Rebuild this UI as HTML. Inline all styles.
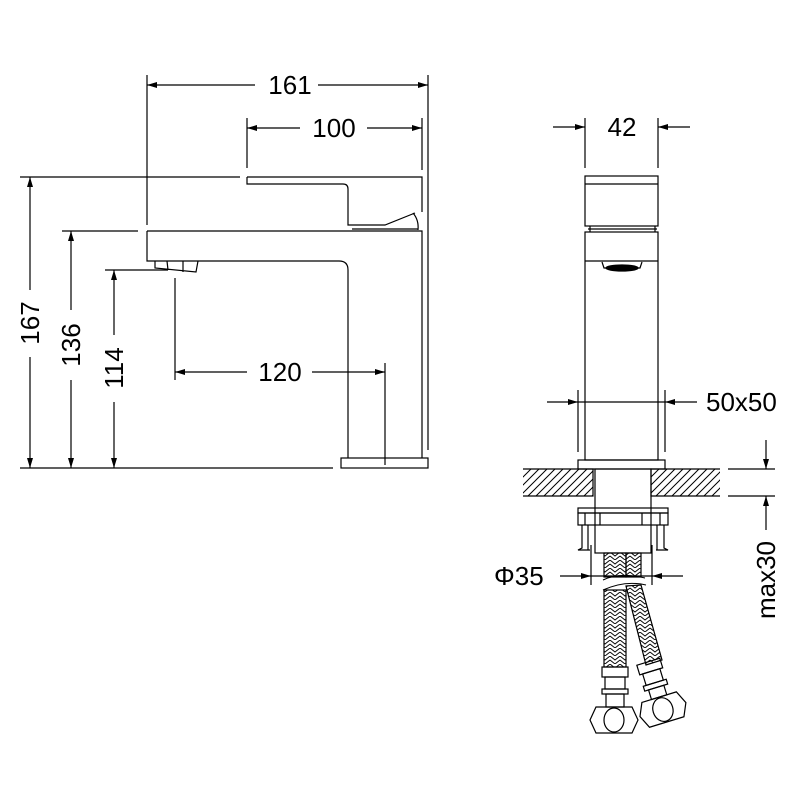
<!DOCTYPE html>
<html><head><meta charset="utf-8"><style>
html,body{margin:0;padding:0;background:#fff;}
svg{display:block;}
text{font-family:"Liberation Sans",Arial,sans-serif;font-size:26px;fill:#000;}
</style></head><body>
<svg width="800" height="800" viewBox="0 0 800 800" xmlns="http://www.w3.org/2000/svg">
<defs>
<marker id="a" viewBox="0 0 10 6" refX="10" refY="3" markerWidth="10" markerHeight="6" orient="auto-start-reverse" markerUnits="userSpaceOnUse"><path d="M0,0 L10,3 L0,6Z" fill="#000"/></marker>
<pattern id="h" width="8" height="8" patternUnits="userSpaceOnUse"><path d="M-2,10 L10,-2 M-2,2 L2,-2 M6,10 L10,6" stroke="#000" stroke-width="1"/></pattern>
<pattern id="b" width="10" height="8" patternUnits="userSpaceOnUse"><path d="M0,0 L5,4 L10,0 M0,4 L5,8 L10,4" stroke="#000" stroke-width="0.9" fill="none"/></pattern>
</defs>
<g stroke="#000" stroke-width="1.2" fill="none">
<line x1="147" y1="75" x2="147" y2="225"/>
<line x1="428" y1="75" x2="428" y2="450"/>
<line x1="147" y1="85" x2="255" y2="85" marker-start="url(#a)"/>
<line x1="318" y1="85" x2="428" y2="85" marker-end="url(#a)"/>
<line x1="247" y1="118" x2="247" y2="168"/>
<line x1="422" y1="118" x2="422" y2="170"/>
<line x1="247" y1="128" x2="300" y2="128" marker-start="url(#a)"/>
<line x1="367" y1="128" x2="422" y2="128" marker-end="url(#a)"/>
<path d="M247,177 L422,177 L422,212 M247,177 L247,184 L343,184 Q348,184 348,189 L348,225 L385,225 L415,213"/>
<path d="M413,213 Q419,220 418,230"/>
<line x1="352" y1="229" x2="418" y2="229"/>
<path d="M147,231 L422,231 L422,458 M147,231 L147,261 L339,261 Q348,261 348,270 L348,458"/>
<rect x="341" y="458" width="87" height="10"/>
<path d="M155,261 L155,268 L196,272 L198,261 M167,261 L168,270 M183,261 L183,272"/>
<line x1="20" y1="177" x2="240" y2="177"/>
<line x1="20" y1="468" x2="333" y2="468"/>
<line x1="30" y1="177" x2="30" y2="290" marker-start="url(#a)"/>
<line x1="30" y1="357" x2="30" y2="468" marker-end="url(#a)"/>
<line x1="62" y1="231" x2="138" y2="231"/>
<line x1="71" y1="231" x2="71" y2="310" marker-start="url(#a)"/>
<line x1="71" y1="380" x2="71" y2="468" marker-end="url(#a)"/>
<line x1="105" y1="270" x2="168" y2="270"/>
<line x1="114" y1="270" x2="114" y2="335" marker-start="url(#a)"/>
<line x1="114" y1="402" x2="114" y2="468" marker-end="url(#a)"/>
<line x1="175" y1="278" x2="175" y2="380"/>
<line x1="385" y1="363" x2="385" y2="465"/>
<line x1="175" y1="372" x2="247" y2="372" marker-start="url(#a)"/>
<line x1="312" y1="372" x2="385" y2="372" marker-end="url(#a)"/>

<line x1="585" y1="118" x2="585" y2="168"/>
<line x1="658" y1="118" x2="658" y2="168"/>
<line x1="553" y1="127" x2="585" y2="127" marker-end="url(#a)"/>
<line x1="690" y1="127" x2="658" y2="127" marker-end="url(#a)"/>
<rect x="585" y="176" width="73" height="50"/>
<line x1="585" y1="184" x2="658" y2="184"/>
<path d="M590,232 L590,226 M655,232 L655,226 M588,229 L657,229"/>
<rect x="585" y="232" width="73" height="228"/>
<line x1="585" y1="261" x2="658" y2="261"/>
<path d="M602,262 L604,268 L640,268 L642,262"/>
<ellipse cx="622" cy="268" rx="16" ry="3" fill="#000"/>
<line x1="578" y1="390" x2="578" y2="452"/>
<line x1="665" y1="390" x2="665" y2="452"/>
<line x1="547" y1="402" x2="578" y2="402" marker-end="url(#a)"/>
<line x1="697" y1="402" x2="665" y2="402" marker-end="url(#a)"/>
<line x1="578" y1="402" x2="665" y2="402"/>
<rect x="578" y="460" width="87" height="9"/>
<rect x="523" y="469" width="70" height="27" fill="url(#h)" stroke="none"/>
<rect x="651" y="469" width="69" height="27" fill="url(#h)" stroke="none"/>
<path d="M523,469 L593,469 L593,496 L523,496 M720,469 L651,469 L651,496 L720,496"/>
<rect x="595" y="469" width="56" height="84"/>
<line x1="728" y1="469" x2="775" y2="469"/>
<line x1="728" y1="496" x2="775" y2="496"/>
<line x1="766" y1="440" x2="766" y2="469" marker-end="url(#a)"/>
<line x1="766" y1="530" x2="766" y2="496" marker-end="url(#a)"/>
<rect x="578" y="508" width="90" height="5"/>
<rect x="578" y="513" width="90" height="12"/>
<path d="M582,525 L582,548 L578,550 L590,550 M664,525 L664,548 L668,550 L656,550 M585,513 L585,525 M600,513 L600,525 M642,513 L642,525 M660,513 L660,525 M588,525 L588,550 M657,525 L657,550"/>
<line x1="591" y1="545" x2="591" y2="585"/>
<line x1="652" y1="545" x2="652" y2="585"/>
<line x1="560" y1="576" x2="591" y2="576" marker-end="url(#a)"/>
<line x1="683" y1="576" x2="652" y2="576" marker-end="url(#a)"/>
<line x1="591" y1="576" x2="652" y2="576"/>
<rect x="604" y="553" width="22" height="24" fill="url(#b)"/>
<rect x="626" y="553" width="15" height="24" fill="url(#b)"/>
<path d="M603,580 Q620,572 645,578 M603,590 Q625,580 646,585" stroke-width="1"/>
<rect x="604" y="590" width="22" height="77" fill="url(#b)"/>
<path d="M626,586 L641,585 L662,660 L646,665 Z" fill="url(#b)"/>
<rect x="602" y="667" width="26" height="10"/>
<rect x="605" y="677" width="20" height="12"/>
<rect x="602" y="689" width="26" height="5"/>
<rect x="606" y="694" width="18" height="13"/>
<path d="M596,707 L632,707 L638,720 L632,733 L596,733 L590,720Z"/>
<ellipse cx="614" cy="720" rx="10" ry="12"/>
<g transform="rotate(-17 660 700)">
<rect x="648" y="660" width="24" height="10"/>
<rect x="651" y="670" width="18" height="12"/>
<rect x="648" y="682" width="24" height="5"/>
<rect x="652" y="687" width="16" height="10"/>
<path d="M642,697 L678,697 L684,710 L678,723 L642,723 L636,710Z"/>
<ellipse cx="660" cy="710" rx="10" ry="12"/>
</g>
</g>
<text x="290" y="94" text-anchor="middle">161</text>
<text x="334" y="137" text-anchor="middle">100</text>
<text x="280" y="381" text-anchor="middle">120</text>
<text transform="translate(39,323) rotate(-90)" text-anchor="middle">167</text>
<text transform="translate(80,345) rotate(-90)" text-anchor="middle">136</text>
<text transform="translate(123,368) rotate(-90)" text-anchor="middle">114</text>
<text x="622" y="136" text-anchor="middle">42</text>
<text x="706" y="411">50x50</text>
<text x="494" y="585">Φ35</text>
<text transform="translate(775,580) rotate(-90)" text-anchor="middle">max30</text>
</svg>
</body></html>
